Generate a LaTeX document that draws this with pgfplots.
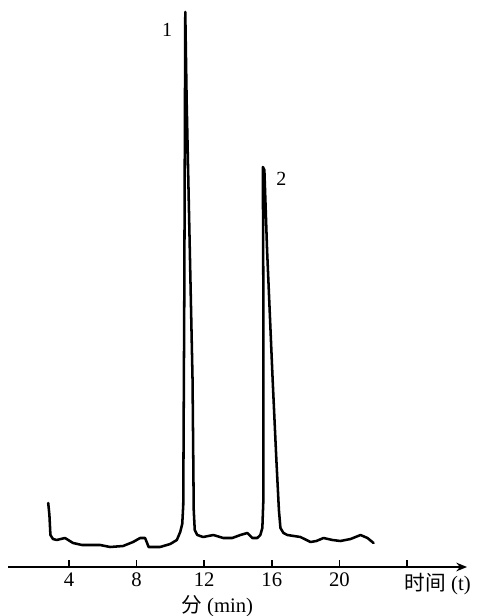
\documentclass[border=0pt]{standalone}
\usepackage{fontspec}
\setmainfont{Liberation Serif}
\newfontfamily\cjk{Noto Sans CJK SC}
\usepackage{pgfplots}
\pgfplotsset{compat=1.18}
\usetikzlibrary{arrows.meta}
\begin{document}
\begin{tikzpicture}
\useasboundingbox (-6pt,-36.75pt) rectangle ++(357.75pt,462pt);
\begin{axis}[
  at={(0,0)}, anchor=south west,
  scale only axis, width=344.25pt, height=425.25pt,
  xmin=0.39, xmax=27.55, ymin=0, ymax=567,
  axis x line=bottom, axis y line=none,
  x axis line style={line width=1.4pt, -{Stealth[length=8pt,width=6.5pt]}},
  xtick={4,8,12,16,20,24}, xticklabels={4,8,12,16,20,{}},
  tick align=inside, major tick length=5.5pt,
  tick style={line width=1.2pt, black},
  /pgf/number format/assume math mode=true,
  tick label style={font=\fontsize{15.5}{17}\selectfont, yshift=-1pt},
  clip=false,
]
\addplot[black, line width=1.9pt, line join=round, line cap=round] coordinates {
(2.77,64) (2.84,52) (2.90,32) (3.05,28) (3.27,27) (3.76,29) (4.24,24) (4.77,22)
(5.24,22) (5.84,22) (6.43,20) (7.20,21) (7.79,25) (8.21,29) (8.50,29) (8.62,24)
(8.71,20) (8.98,20) (9.39,20) (9.99,23) (10.38,27) (10.58,35) (10.70,43) (10.76,62)
(10.82,267) (10.88,555) (10.96,467) (11.31,187) (11.38,57) (11.44,37) (11.59,32)
(11.94,30) (12.54,32) (13.13,29) (13.66,29) (14.14,32) (14.55,34) (14.85,29)
(15.14,29) (15.32,32) (15.44,39) (15.50,67) (15.50,267) (15.47,400) (15.56,397)
(15.72,317) (16.05,187) (16.27,107) (16.42,57) (16.51,39) (16.69,34) (16.92,32)
(17.69,30) (18.29,25) (18.64,26) (19.06,29) (19.59,27) (20.06,26) (20.66,28)
(21.25,32) (21.66,29) (22.02,24)
};
\node[font=\fontsize{15}{17}\selectfont] at (axis cs:9.81,537) {1};
\node[font=\fontsize{15}{17}\selectfont] at (axis cs:16.57,388) {2};
\node[font=\fontsize{15.5}{17}\selectfont, anchor=west, inner sep=0pt] at (axis cs:23.85,-17) {{\cjk 时间} (t)};
\node[font=\fontsize{15.5}{17}\selectfont] at (axis cs:12.77,-39) {{\cjk 分} (min)};
\end{axis}
\end{tikzpicture}
\end{document}
